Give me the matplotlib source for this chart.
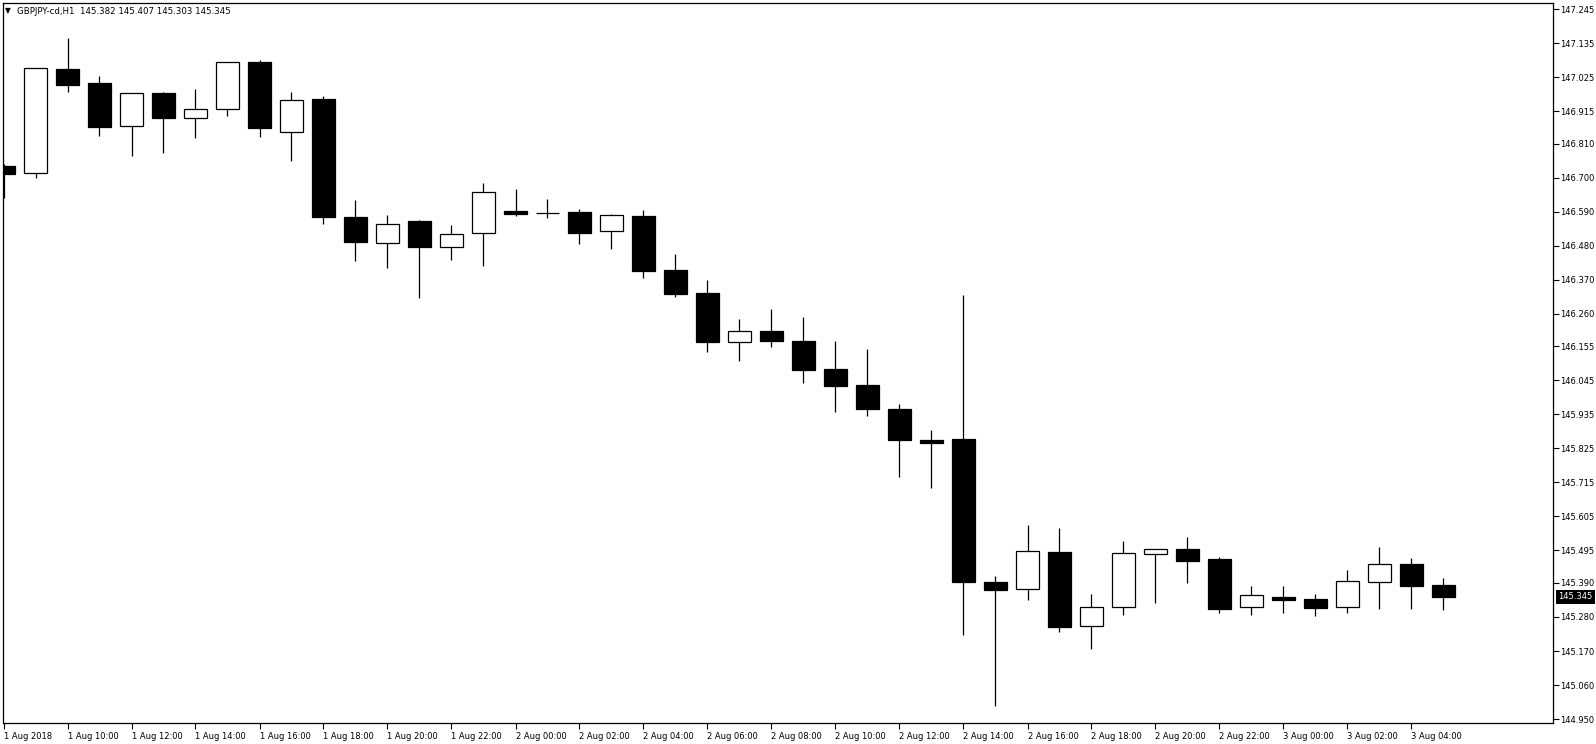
import matplotlib
matplotlib.use('Agg')
import matplotlib.pyplot as plt
from matplotlib.transforms import blended_transform_factory

# GBPJPY H1 bars, 1 Aug 2018 08:00 .. 3 Aug 2018 05:00
opens = [146.738, 146.714, 147.050, 147.006, 146.866, 146.974, 146.892, 146.921,
         147.074, 146.846, 146.954, 146.573, 146.489, 146.560, 146.475, 146.520,
         146.592, 146.585, 146.589, 146.527, 146.576, 146.401, 146.327, 146.170,
         146.204, 146.172, 146.081, 146.030, 145.952, 145.852, 145.855, 145.393,
         145.369, 145.490, 145.250, 145.311, 145.483, 145.499, 145.467, 145.311,
         145.345, 145.338, 145.311, 145.392, 145.450, 145.382]
highs = [146.745, 147.053, 147.151, 147.028, 146.973, 146.977, 146.986, 147.074,
         147.079, 146.977, 146.963, 146.628, 146.579, 146.563, 146.547, 146.683,
         146.663, 146.631, 146.599, 146.582, 146.595, 146.453, 146.369, 146.243,
         146.275, 146.250, 146.172, 146.146, 145.968, 145.884, 146.321, 145.412,
         145.577, 145.567, 145.354, 145.525, 145.499, 145.538, 145.473, 145.380,
         145.380, 145.354, 145.432, 145.506, 145.470, 145.407]
lows = [146.634, 146.700, 146.978, 146.836, 146.771, 146.781, 146.829, 146.900,
        146.830, 146.755, 146.551, 146.429, 146.408, 146.312, 146.435, 146.415,
        146.577, 146.570, 146.486, 146.470, 146.377, 146.315, 146.137, 146.108,
        146.154, 146.037, 145.943, 145.931, 145.733, 145.698, 145.223, 144.993,
        145.336, 145.232, 145.177, 145.287, 145.326, 145.391, 145.294, 145.287,
        145.294, 145.283, 145.294, 145.307, 145.307, 145.303]
closes = [146.711, 147.053, 147.000, 146.865, 146.973, 146.892, 146.922, 147.074,
          146.861, 146.951, 146.574, 146.493, 146.550, 146.477, 146.517, 146.653,
          146.583, 146.586, 146.522, 146.578, 146.399, 146.325, 146.170, 146.203,
          146.173, 146.079, 146.027, 145.953, 145.853, 145.843, 145.394, 145.368,
          145.493, 145.249, 145.312, 145.487, 145.499, 145.462, 145.307, 145.350,
          145.336, 145.310, 145.395, 145.450, 145.381, 145.345]

time_labels = ['1 Aug 2018', '1 Aug 10:00', '1 Aug 12:00', '1 Aug 14:00', '1 Aug 16:00',
               '1 Aug 18:00', '1 Aug 20:00', '1 Aug 22:00', '2 Aug 00:00', '2 Aug 02:00',
               '2 Aug 04:00', '2 Aug 06:00', '2 Aug 08:00', '2 Aug 10:00', '2 Aug 12:00',
               '2 Aug 14:00', '2 Aug 16:00', '2 Aug 18:00', '2 Aug 20:00', '2 Aug 22:00',
               '3 Aug 00:00', '3 Aug 02:00', '3 Aug 04:00']
price_ticks = [147.245, 147.135, 147.025, 146.915, 146.810, 146.700, 146.590, 146.480,
               146.370, 146.260, 146.155, 146.045, 145.935, 145.825, 145.715, 145.605,
               145.495, 145.390, 145.280, 145.170, 145.060, 144.950]
header = 'GBPJPY-cd,H1  145.382 145.407 145.303 145.345'
last_price = 145.345

plt.rcParams['font.family'] = 'DejaVu Sans'

fig = plt.figure(figsize=(15.96, 7.44), dpi=100)
ax = fig.add_axes([2.5 / 1596, 1 - 723.3 / 744, 1551 / 1596, 720.6 / 744])

x = list(range(len(opens)))
faces = ['white' if c >= o else 'black' for o, c in zip(opens, closes)]
bottoms = [min(o, c) for o, c in zip(opens, closes)]
heights = [max(abs(c - o), 0.0005) for o, c in zip(opens, closes)]

ax.vlines(x, lows, highs, color='black', linewidth=0.9, zorder=1)
ax.bar(x, heights, bottom=bottoms, width=0.73, color=faces, edgecolor='black',
       linewidth=0.9, zorder=2)

ax.set_xlim(-1 / 32, 1550 / 32)
ax.set_ylim(144.9364, 147.2654)

ax.set_xticks(list(range(0, len(opens), 2)))
ax.set_xticklabels(time_labels)
for lab in ax.get_xticklabels():
    lab.set_ha('left')
ax.tick_params(axis='x', direction='out', length=4, width=0.8, pad=2, labelsize=6)

ax.yaxis.tick_right()
ax.set_yticks(price_ticks)
ax.set_yticklabels([f'{p:.3f}' for p in price_ticks])
ax.tick_params(axis='y', direction='out', length=4, width=0.8, pad=1, labelsize=6)

for s in ax.spines.values():
    s.set_linewidth(0.9)
    s.set_color('black')

# current price marker on the price scale
tr = blended_transform_factory(ax.transAxes, ax.transData)
ax.text(1.0 + 5 / 1551, last_price, f'{last_price:.3f}', transform=tr, ha='left',
        va='center', color='white', fontsize=6,
        bbox=dict(facecolor='black', edgecolor='none', pad=1.6), clip_on=False)

fig.text(5 / 1596, 1 - 11 / 744, '\u25bc', fontsize=5.5, va='center', ha='left')
fig.text(17 / 1596, 1 - 11 / 744, header, fontsize=6.2, va='center', ha='left')

fig.savefig('out.png', dpi=100)
